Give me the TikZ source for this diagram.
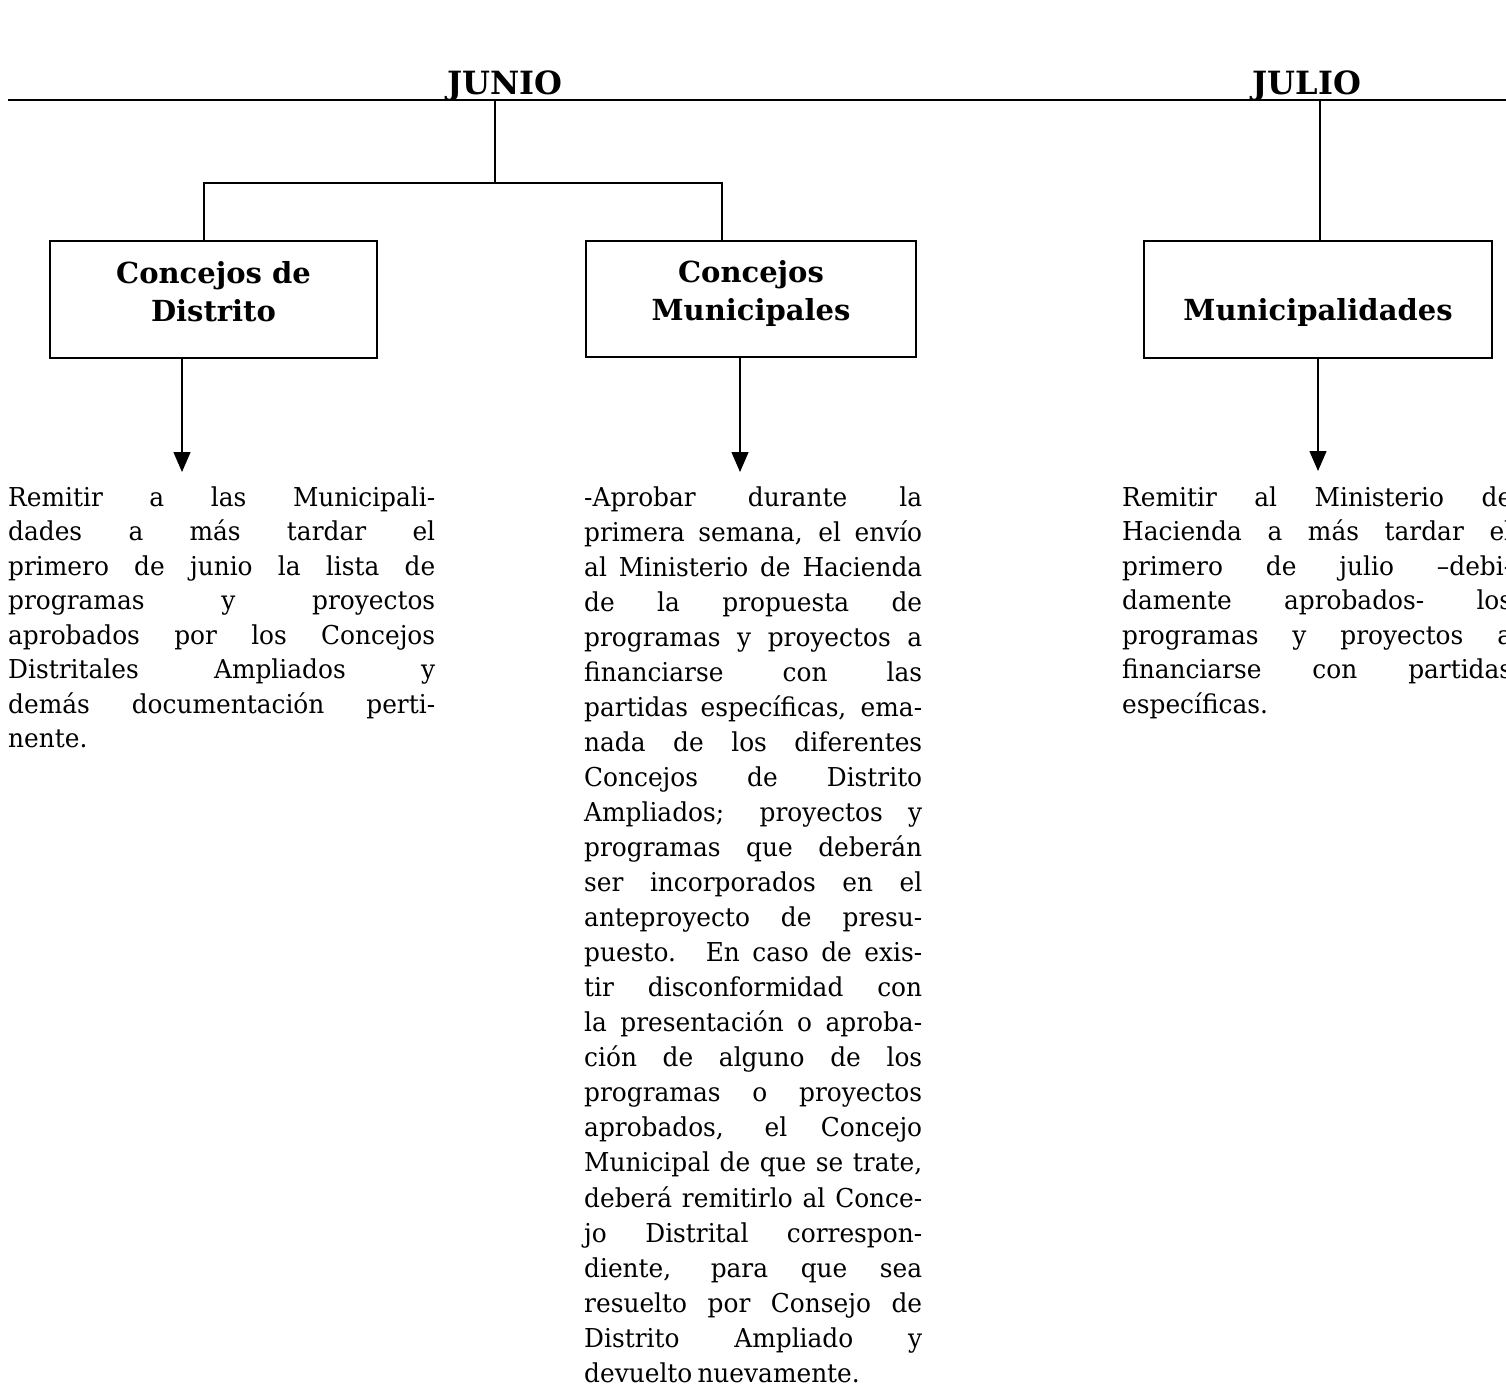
\documentclass[tikz,border=0pt]{standalone}
\usepackage{fontspec}
\setmainfont{DejaVu Serif}
\newfontfamily\bodyfont{DejaVu Serif}[FakeStretch=0.955, WordSpace=0.65]
\usetikzlibrary{arrows.meta}
\newcommand\jline[1]{\hbox to\hsize{#1}}
\newcommand\lline[1]{\hbox{#1}}
\newcommand\labfont{\fontsize{29}{38}\selectfont\bfseries}
\tikzset{
  conn/.style={line width=1.4pt, black},
  arr/.style={line width=1.4pt, black, -{Triangle[width=17pt,length=20pt]}},
  box/.style={draw, line width=1.6pt, inner sep=0pt, align=center},
  head/.style={font=\fontsize{32}{36}\selectfont\bfseries, inner sep=0pt, anchor=base},
  para/.style={font=\bodyfont\fontsize{26}{34.5}\selectfont, inner sep=0pt, anchor=base west},
}
\begin{document}
\begin{tikzpicture}[x=1pt,y=-1pt]
\useasboundingbox (0,0) rectangle (1506,1388);
\clip (0,0) rectangle (1506,1388);
% header line
\coordinate (hl) at (8,100);
\coordinate (hr) at (1506,100);
\draw[conn] (hl) -- (hr);
\node[head] (junio) at (505,95) {JUNIO};
\node[head] (julio) at (1307,95) {JULIO};
% boxes
\node[box, minimum width=327pt, minimum height=117pt] (b1) at (213.5,299.5)
  {\raisebox{5pt}[0pt][0pt]{\parbox{320pt}{\centering\labfont Concejos de\\Distrito}}};
\node[box, minimum width=330pt, minimum height=116pt] (b2) at (751,299)
  {\raisebox{3pt}[0pt][0pt]{\parbox{320pt}{\centering\labfont Concejos\\Municipales}}};
\node[box, minimum width=348pt, minimum height=117pt] (b3) at (1318,299.5)
  {\raisebox{-15pt}[0pt][0pt]{\parbox{340pt}{\centering\labfont Municipalidades}}};
% tree connectors
\coordinate (jn) at (495,101);
\coordinate (jb) at (495,183);
\coordinate (l1) at (204,183);
\coordinate (l2) at (722,183);
\draw[conn] (jn) -- (jb);
\draw[conn] (l1 |- b1.north) -- (l1) -- (l2) -- (l2 |- b2.north);
\coordinate (jl) at (1320,101);
\draw[conn] (jl) -- (jl |- b3.north);
% arrows
\coordinate (a1) at (182,472);
\coordinate (a2) at (740,472);
\coordinate (a3) at (1318,471);
\draw[arr] (b1.south -| a1) -- (a1);
\draw[arr] (b2.south -| a2) -- (a2);
\draw[arr] (b3.south -| a3) -- (a3);
% texts
\node[para] (t1) at (8,506) {\vtop{\hsize=427pt\baselineskip=34.5pt
\jline{Remitir a las Municipali-}
\jline{dades a más tardar el}
\jline{primero de junio la lista de}
\jline{programas y proyectos}
\jline{aprobados por  los Concejos}
\jline{Distritales Ampliados y}
\jline{demás documentación perti-}
\lline{nente.}}};
\node[para] (t2) at (584,506) {\vtop{\hsize=338pt\baselineskip=35.05pt
\jline{-Aprobar durante la}
\jline{primera semana, el envío}
\jline{al Ministerio de Hacienda}
\jline{de la propuesta de}
\jline{programas y proyectos a}
\jline{financiarse con las}
\jline{partidas específicas, ema-}
\jline{nada de los diferentes}
\jline{Concejos de Distrito}
\jline{Ampliados; proyectos y}
\jline{programas que deberán}
\jline{ser incorporados en el}
\jline{anteproyecto de presu-}
\jline{puesto. En caso de exis-}
\jline{tir disconformidad con}
\jline{la presentación o aproba-}
\jline{ción de alguno de los}
\jline{programas o proyectos}
\jline{aprobados, el Concejo}
\jline{Municipal de que se trate,}
\jline{deberá remitirlo al Conce-}
\jline{jo Distrital correspon-}
\jline{diente, para que sea}
\jline{resuelto por Consejo de}
\jline{Distrito Ampliado y}
\lline{devuelto nuevamente.}}};
\node[para] (t3) at (1122,506) {\vtop{\hsize=390pt\baselineskip=34.5pt
\jline{Remitir al Ministerio de}
\jline{Hacienda a más tardar el}
\jline{primero de julio –debi-}
\jline{damente aprobados- los}
\jline{programas y proyectos a}
\jline{financiarse con partidas}
\lline{específicas.}}};
\end{tikzpicture}
\end{document}
